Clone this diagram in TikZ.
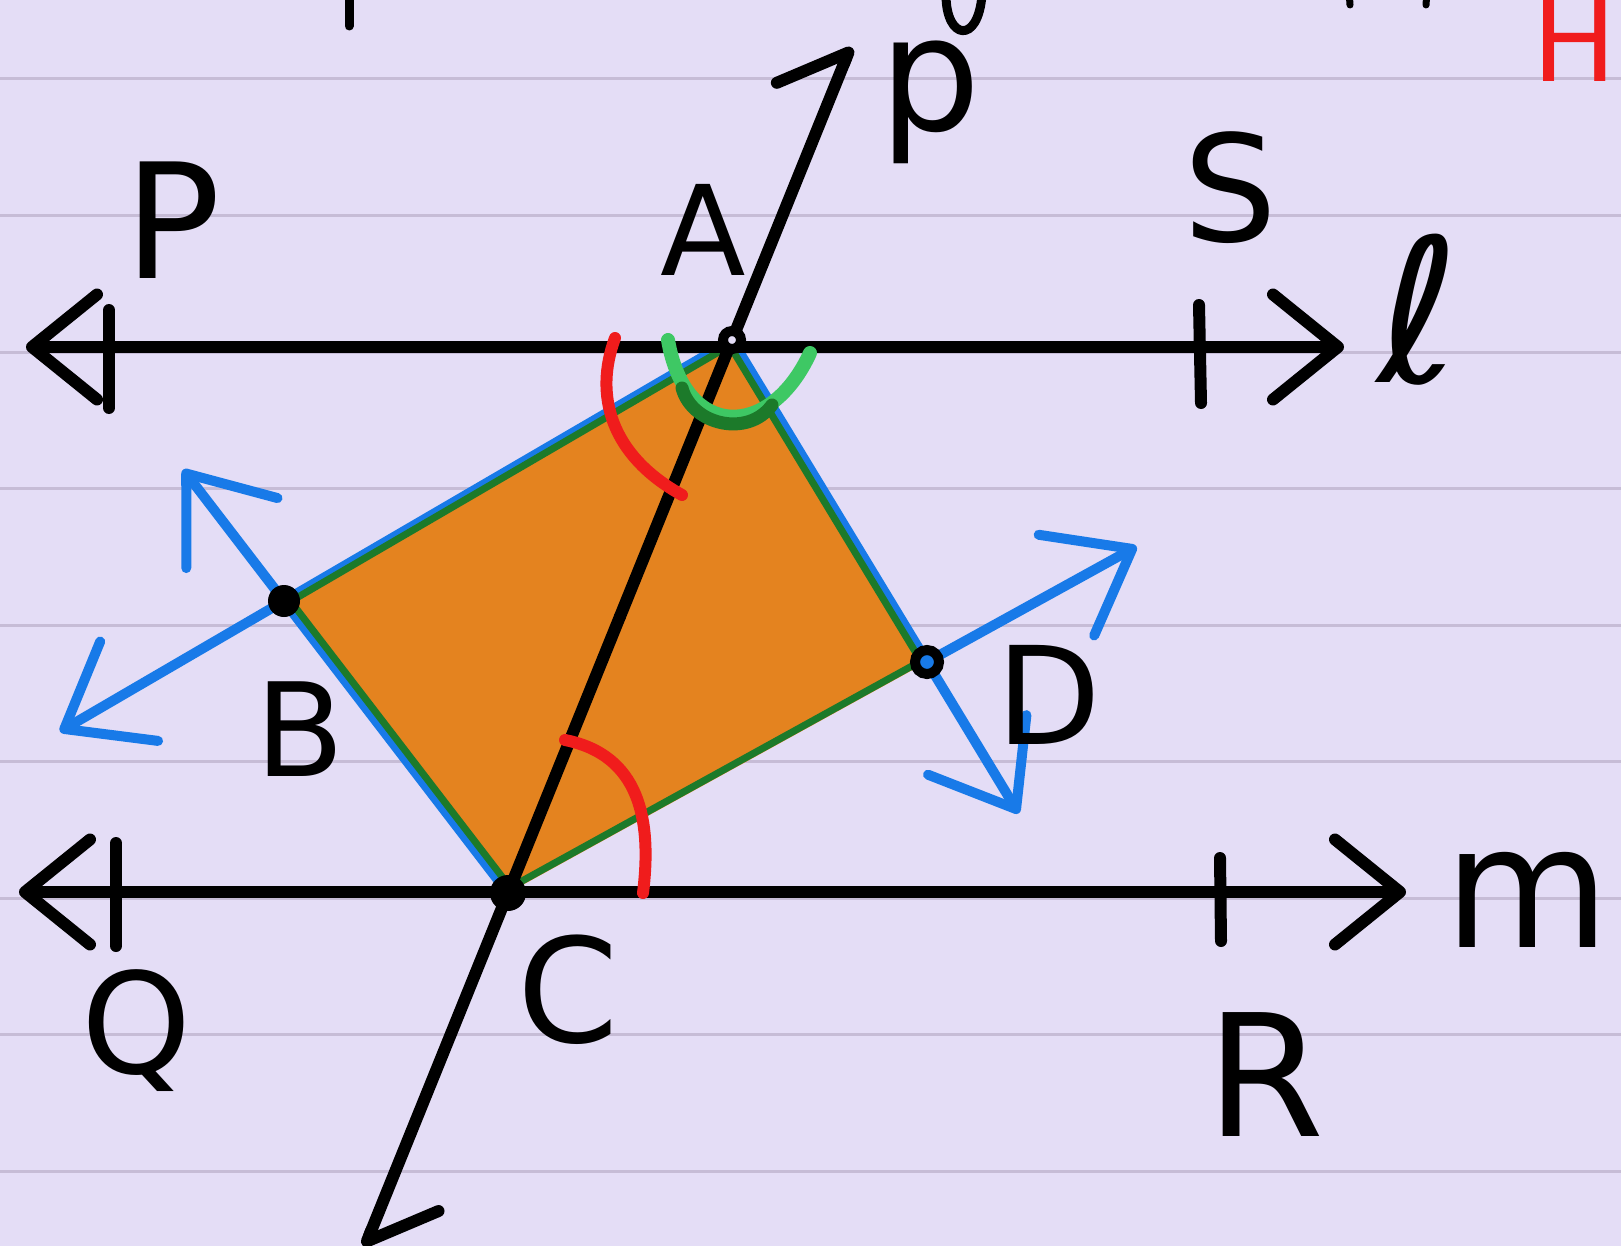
\documentclass[tikz,border=0pt]{standalone}
\usepackage{fontspec}
\setmainfont{DejaVu Sans}
\usetikzlibrary{arrows.meta,calc}
\definecolor{paper}{RGB}{228,221,246}
\definecolor{ruling}{RGB}{198,188,214}
\definecolor{quadfill}{RGB}{228,131,31}
\definecolor{edgegreen}{RGB}{28,122,42}
\definecolor{markgreen}{RGB}{62,200,100}
\definecolor{penblue}{RGB}{24,122,232}
\definecolor{penred}{RGB}{240,28,28}

\begin{document}
\begin{tikzpicture}[
    x=1pt,y=-1pt,
    lbl/.style={inner sep=0pt,font=\fontsize{#1}{#1}\selectfont},
    lbl/.default=135,
    ink/.style={line width=12pt,line cap=round,line join=round},
    >={Straight Barb[length=65pt,width=105pt,round]},
    half/.style={-{Straight Barb[length=55pt,width=110pt,round,harpoon]}},
    barr/.style={line width=10pt,line cap=round,penblue,
                 -{Straight Barb[length=75pt,width=115pt,round]}},
    redarc/.style={line width=12pt,line cap=round,penred},
    ring/.style={draw=black,line width=10pt}
  ]
  \useasboundingbox (0,0) rectangle (1621,1246);
  \clip (0,0) rectangle (1621,1246);
  \fill[paper] (0,0) rectangle (1621,1246);
  \foreach \k in {0,...,8}
    \draw[ruling,line width=3pt] (0,79+136.5*\k) -- (1621,79+136.5*\k);

  % vertices and line ends
  \coordinate (A) at (732,340);
  \coordinate (B) at (284,601);
  \coordinate (C) at (508,893);
  \coordinate (D) at (927,662);
  \coordinate (O) at ($(A)!0.5!(C)$);
  \coordinate (lL) at (26,347);
  \coordinate (lR) at (1344,347);
  \coordinate (mL) at (19,892);
  \coordinate (mR) at (1406,892);
  \coordinate (pT) at ($(C)!1.53!(A)$);
  \coordinate (pB) at ($(A)!1.64!(C)$);
  \coordinate (bT) at ($(C)!1.45!(B)$);
  \coordinate (bB) at ($(A)!1.5!(B)$);
  \coordinate (dT) at ($(C)!1.5!(D)$);
  \coordinate (dB) at ($(A)!1.47!(D)$);

  \fill[quadfill] (A) -- (B) -- (C) -- (D) -- cycle;
  \draw[barr] (A) -- (bB);
  \draw[barr] (C) -- (bT);
  \draw[barr] (A) -- (dB);
  \draw[barr] (D) -- (dT);
  \draw[edgegreen,line width=7pt,line join=round]
    ($(O)!0.98!(A)$) -- ($(O)!0.98!(B)$) -- ($(O)!0.98!(C)$)
    -- ($(O)!0.98!(D)$) -- cycle;

  \draw[ink,<->] (lL) -- (lR);
  \draw[ink,<->] (mL) -- (mR);
  \draw[ink,half] (O) -- (pT);
  \draw[ink,half] (O) -- (pB);
  \draw[ink] (109,310) -- (109,408);
  \draw[ink] (1199,305) -- (1201,403);
  \draw[ink] (116,843) -- (116,946);
  \draw[ink] (1220,858) -- (1221,941);

  % angle marks
  \draw[redarc] (615,338) .. controls (594,395) and (610,455) .. (682,495);
  \draw[redarc] (565,740) .. controls (640,755) and (652,820) .. (643,893);
  \draw[markgreen,line width=14pt,line cap=round]
    (668,340) .. controls (685,440) and (770,440) .. (810,353);
  \draw[edgegreen,line width=13pt,line cap=round]
    (682,388) .. controls (692,425) and (748,438) .. (772,405);

  \filldraw[ring,fill=paper] (A) circle[radius=9];
  \filldraw[ring,fill=penblue] (D) circle[radius=12];
  \fill (B) circle[radius=16];
  \fill (C) circle[radius=18];

  \node[lbl=160] (Plbl) at (173,220) {P};
  \node[lbl=125] (Albl) at (703,230) {A};
  \node[lbl=148] (Slbl) at (1230,188) {S};
  \node[lbl=200] (ell) at (1419,310) {ℓ};
  \node[lbl=130] (Blbl) at (300,729) {B};
  \node[lbl=136] (Dlbl) at (1049,695) {D};
  \node[lbl=145] (Clbl) at (568,990) {C};
  \node[lbl=140] (Qlbl) at (137,1031) {Q};
  \node[lbl=170] (Rlbl) at (1266,1075) {R};
  \node[lbl=170] (mlbl) at (1527,900) {m};
  \node[lbl=160] (plbl) at (930,102) {p};

  % text cut off at the top edge
  \node[lbl=112,text=penred,anchor=base west] (Hlbl) at (1532,82) {H};
  \draw[ink,line width=9pt] (349,-10) -- (349,26);
  \draw[ink,line width=9pt] (946,-5) .. controls (946,40) and (978,45) .. (982,-5);
  \draw[ink,line width=7pt] (1349,-10) -- (1350,5);
  \draw[ink,line width=7pt] (1427,-10) -- (1426,5);
\end{tikzpicture}
\end{document}
